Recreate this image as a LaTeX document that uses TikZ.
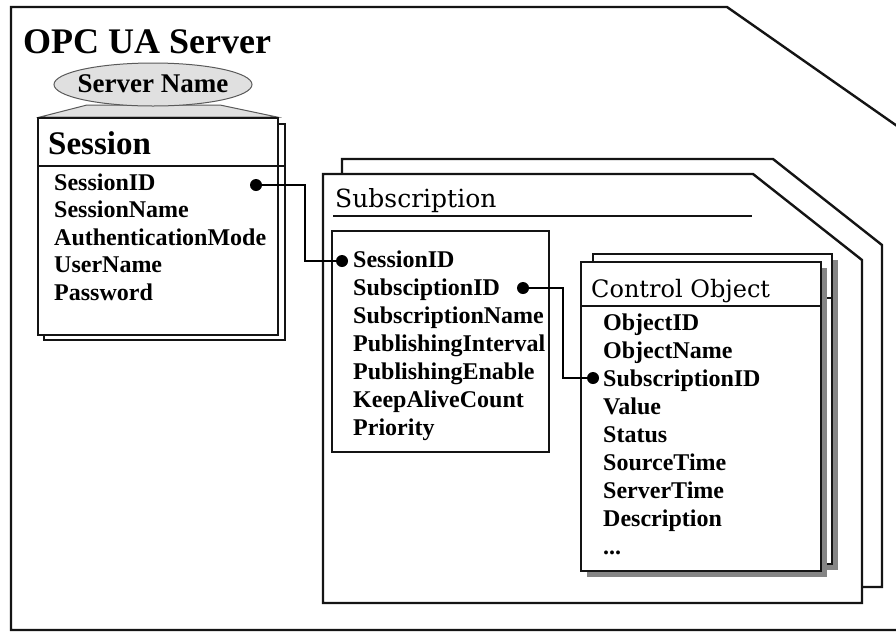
\documentclass[tikz,border=0pt]{standalone}
\usepackage{fontspec}
\setmainfont{Liberation Serif}
\newfontfamily\slabfont{DejaVu Serif}
\usetikzlibrary{calc,shapes.geometric}

\definecolor{framegray}{HTML}{141414}
\definecolor{ovalfill}{HTML}{E0E0E0}
\definecolor{shadowgray}{HTML}{858585}

\tikzset{
  frame/.style={draw=framegray, line width=2.4pt, fill=white},
  thinframe/.style={draw=framegray, line width=1.4pt, fill=white},
  field/.style={anchor=base west, inner sep=0pt, font=\fontsize{24}{28}\selectfont\bfseries},
  boxtitle/.style={anchor=base west, inner sep=0pt, font=\slabfont\fontsize{24}{28}\selectfont},
  joint/.style={circle, fill=black, inner sep=0pt, minimum size=12pt},
  link/.style={draw=black, line width=2.2pt},
  shade/.style={fill=shadowgray, draw=none}
}

\begin{document}
\begin{tikzpicture}[x=1pt, y=-1pt]
\useasboundingbox (0,0) rectangle (896,633);
\clip (0,0) rectangle (896,633);
\fill[white] (0,0) rectangle (896,633);

% server frame with cut corner
\draw[frame] (11,7) -- (727,7) -- (930,149) -- (930,630) -- (11,630) -- cycle;
\node[anchor=base west, inner sep=0pt, font=\fontsize{36}{40}\selectfont\bfseries] (server) at (23,53) {OPC UA Server};

% session record (stacked) with its server-name tag
\draw[frame] (44,124) rectangle (285,340);
\draw[framegray, line width=1.4pt] (44,166) -- (285,166);
\draw[fill=ovalfill, draw=framegray!70, line width=1pt] (40,117) -- (87,105) -- (220,105) -- (277,117) -- cycle;
\draw[frame] (38,118) rectangle (278,335);
\draw[framegray, line width=1.4pt] (38,166) -- (278,166);
\node[ellipse, draw=framegray!70, fill=ovalfill, line width=1pt, minimum width=198pt, minimum height=43pt, inner sep=0pt] (tag) at (153,84.5) {};
\node[anchor=base, inner sep=0pt, font=\fontsize{27}{30}\selectfont\bfseries] (tagtext) at (153,92) {Server Name};
\node[anchor=base west, inner sep=0pt, font=\fontsize{33}{36}\selectfont\bfseries] (session) at (48,154) {Session};
\node[field] (s1) at (54,190) {SessionID};
\node[field] (s2) at (54,217.5) {SessionName};
\node[field] (s3) at (54,245) {AuthenticationMode};
\node[field] (s4) at (54,272.5) {UserName};
\node[field] (s5) at (54,300) {Password};

% subscription container (stacked)
\draw[frame] (342,159) -- (773,159) -- (882,245) -- (882,587) -- (342,587) -- cycle;
\draw[frame] (323,174) -- (753,174) -- (862,260) -- (862,603) -- (323,603) -- cycle;
\node[boxtitle, font=\slabfont\fontsize{25}{28}\selectfont] (subtitle) at (335,207) {Subscription};
\draw[framegray, line width=1.4pt] (333,216) -- (752,216);
\draw[thinframe] (332,231) rectangle (549,452);
\node[field] (b1) at (353,267) {SessionID};
\node[field] (b2) at (353,295) {SubsciptionID};
\node[field] (b3) at (353,323) {SubscriptionName};
\node[field] (b4) at (353,351) {PublishingInterval};
\node[field] (b5) at (353,379) {PublishingEnable};
\node[field] (b6) at (353,407) {KeepAliveCount};
\node[field] (b7) at (353,435) {Priority};

% control object records (stacked, drop shadows)
\fill[shade] (599,260) rectangle (838,570);
\draw[frame] (593,254) rectangle (832,564);
\draw[framegray, line width=1.4pt] (593,298) -- (832,298);
\fill[shade] (587,268) rectangle (827,577);
\draw[frame] (581,262) rectangle (821,571);
\draw[framegray, line width=1.4pt] (581,306) -- (821,306);
\node[boxtitle] (cotitle) at (591,297) {Control Object};
\node[field] (c1) at (603,330) {ObjectID};
\node[field] (c2) at (603,358) {ObjectName};
\node[field] (c3) at (603,386) {SubscriptionID};
\node[field] (c4) at (603,414) {Value};
\node[field] (c5) at (603,442) {Status};
\node[field] (c6) at (603,470) {SourceTime};
\node[field] (c7) at (603,498) {ServerTime};
\node[field] (c8) at (603,526) {Description};
\node[field] (c9) at (603,554) {...};

% key links
\node[joint] (jsA) at (256,185) {};
\node[joint] (jsB) at (342,261) {};
\node[joint] (jcA) at (523,288) {};
\node[joint] (jcB) at (593,378) {};
\draw[link] (jsA.center) -- ++(49,0) |- (jsB.center);
\draw[link] (jcA.center) -- ++(40,0) |- (jcB.center);
\end{tikzpicture}
\end{document}
